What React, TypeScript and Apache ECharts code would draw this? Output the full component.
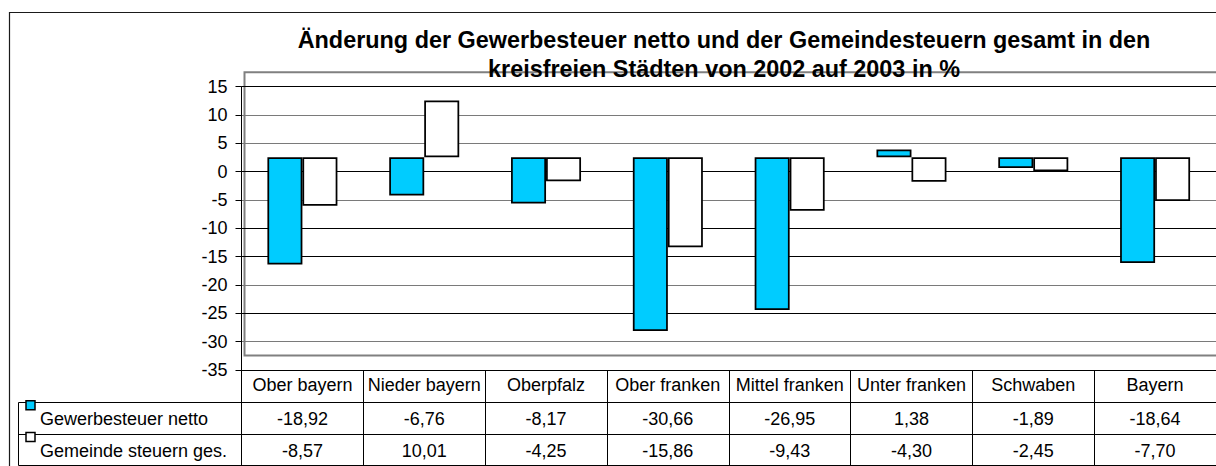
import React, { useEffect, useRef } from "react";
import * as echarts from "echarts";

const categories = [
  "Ober bayern",
  "Nieder bayern",
  "Oberpfalz",
  "Ober franken",
  "Mittel franken",
  "Unter franken",
  "Schwaben",
  "Bayern",
];
const seriesNames = ["Gewerbesteuer netto", "Gemeinde steuern ges."];
const gewerbesteuer = [-18.92, -6.76, -8.17, -30.66, -26.95, 1.38, -1.89, -18.64];
const gemeindesteuern = [-8.57, 10.01, -4.25, -15.86, -9.43, -4.3, -2.45, -7.7];
const seriesColors = ["#00CCFF", "#FFFFFF"];
const yMin = -35;
const yMax = 15;
const yInterval = 5;
const titleText =
  "Änderung der Gewerbesteuer netto und der Gemeindesteuern gesamt in den\nkreisfreien Städten von 2002 auf 2003 in %";

const FONT = "'Liberation Sans', Arial, Helvetica, sans-serif";
const fmt = (v: number) => v.toFixed(2).replace(".", ",");

// layout
const PLOT_LEFT = 241.5;
const PLOT_WIDTH = 978;
const AXIS_TOP = 86.7;
const BAR_TOP = 72.3;
const PLOT_HEIGHT = 283.3;
const ROW_H = 31.8;
const TABLE_TOP = AXIS_TOP + PLOT_HEIGHT;
const LEG_LEFT = 18.5;

const gridColors = [
  "#000000",
  "#7a7a7a",
  "#000000",
  "#7a7a7a",
  "#000000",
  "#000000",
  "#7a7a7a",
  "#000000",
  "#7a7a7a",
  "#7a7a7a",
  "#000000",
];

export default function App() {
  const ref = useRef<HTMLDivElement>(null);
  useEffect(() => {
    if (!ref.current) return;
    const chart = echarts.init(ref.current, null, { renderer: "svg" });
    const seriesData = [gewerbesteuer, gemeindesteuern];
    const option: any = {
      animation: false,
      backgroundColor: "#ffffff",
      textStyle: { fontFamily: FONT },
      grid: [
        { left: PLOT_LEFT, top: AXIS_TOP, width: PLOT_WIDTH, height: PLOT_HEIGHT, containLabel: false },
        { left: PLOT_LEFT, top: BAR_TOP, width: PLOT_WIDTH, height: PLOT_HEIGHT, containLabel: false },
      ],
      xAxis: [
        {
          type: "category",
          gridIndex: 0,
          position: "bottom",
          data: categories,
          boundaryGap: true,
          axisLine: { show: true, onZero: false, lineStyle: { color: "#000", width: 1 } },
          axisTick: {
            show: true,
            interval: 0,
            alignWithLabel: false,
            length: ROW_H * 3,
            lineStyle: { color: "#000", width: 1 },
          },
          axisLabel: { interval: 0, fontSize: 18, color: "#000", margin: 6, fontFamily: FONT },
          splitLine: { show: false },
        },
        {
          type: "category",
          gridIndex: 0,
          position: "bottom",
          data: gewerbesteuer.map(fmt),
          axisLine: { show: false, onZero: false },
          axisTick: { show: false },
          axisLabel: { interval: 0, fontSize: 18, color: "#000", margin: 40, fontFamily: FONT },
          splitLine: { show: false },
        },
        {
          type: "category",
          gridIndex: 0,
          position: "bottom",
          data: gemeindesteuern.map(fmt),
          axisLine: { show: false, onZero: false },
          axisTick: { show: false },
          axisLabel: { interval: 0, fontSize: 18, color: "#000", margin: 72, fontFamily: FONT },
          splitLine: { show: false },
        },
        {
          type: "category",
          gridIndex: 1,
          data: categories,
          show: false,
          axisLine: { onZero: false },
        },
      ],
      yAxis: [
        {
          type: "value",
          gridIndex: 0,
          min: yMin,
          max: yMax,
          interval: yInterval,
          axisLine: { show: true, lineStyle: { color: "#000", width: 1 } },
          axisTick: { show: true, length: 6, lineStyle: { color: "#000", width: 1 } },
          axisLabel: { fontSize: 18, color: "#000", margin: 14, fontFamily: FONT },
          splitLine: { show: true, lineStyle: { color: gridColors, width: 1 } },
        },
        {
          type: "value",
          gridIndex: 1,
          min: yMin,
          max: yMax,
          interval: yInterval,
          show: false,
          splitLine: { show: false },
        },
      ],
      series: seriesNames.map((name, i) => ({
        name,
        type: "bar",
        xAxisIndex: 3,
        yAxisIndex: 1,
        data: seriesData[i],
        barWidth: 35,
        barGap: "0%",
        itemStyle: { color: seriesColors[i], borderColor: "#000", borderWidth: 1.75 },
        emphasis: { disabled: true },
        z: 3,
      })),
      graphic: [
        {
          type: "rect",
          shape: { x: 9.5, y: 12.5, width: 1300, height: 600 },
          style: { fill: "none", stroke: "#1a1a1a", lineWidth: 1.2 },
          z: 0,
        },
        {
          type: "rect",
          shape: { x: 244.5, y: BAR_TOP, width: 1000, height: PLOT_HEIGHT },
          style: { fill: "none", stroke: "#808080", lineWidth: 2 },
          z: 0,
        },
        {
          type: "text",
          x: 724,
          y: 54.5,
          style: {
            text: titleText,
            fill: "#000",
            font: `bold 23.4px ${FONT}`,
            fontSize: 23.4,
            fontWeight: "bold",
            fontFamily: FONT,
            align: "center",
            verticalAlign: "middle",
            lineHeight: 28.3,
          },
          z: 10,
        },
        // table row lines
        ...[1, 2, 3].map((k) => ({
          type: "line",
          shape: {
            x1: LEG_LEFT,
            y1: Math.round(TABLE_TOP + ROW_H * k) + 0.5,
            x2: 1216,
            y2: Math.round(TABLE_TOP + ROW_H * k) + 0.5,
          },
          style: { stroke: "#000", lineWidth: 1 },
          z: 5,
        })),
        {
          type: "line",
          shape: {
            x1: LEG_LEFT,
            y1: Math.round(TABLE_TOP + ROW_H) + 0.5,
            x2: LEG_LEFT,
            y2: Math.round(TABLE_TOP + ROW_H * 3) + 0.5,
          },
          style: { stroke: "#000", lineWidth: 1 },
          z: 5,
        },
        // legend keys
        ...seriesNames.map((name, i) => ({
          type: "group",
          children: [
            {
              type: "rect",
              shape: { x: 26, y: TABLE_TOP + ROW_H * (i + 1) - 1, width: 9, height: 9 },
              style: { fill: seriesColors[i], stroke: "#000", lineWidth: 1.5 },
              z: 6,
            },
            {
              type: "text",
              x: 40,
              y: TABLE_TOP + ROW_H * (i + 1) + 17,
              style: {
                text: name,
                fill: "#000",
                fontSize: 18,
                fontFamily: FONT,
                align: "left",
                verticalAlign: "middle",
              },
              z: 6,
            },
          ],
        })),
      ],
    };
    chart.setOption(option);
    return () => chart.dispose();
  }, []);
  return (
    <div
      ref={ref}
      style={{ position: "fixed", left: 0, top: 0, width: 1216, height: 466, background: "#fff" }}
    />
  );
}
